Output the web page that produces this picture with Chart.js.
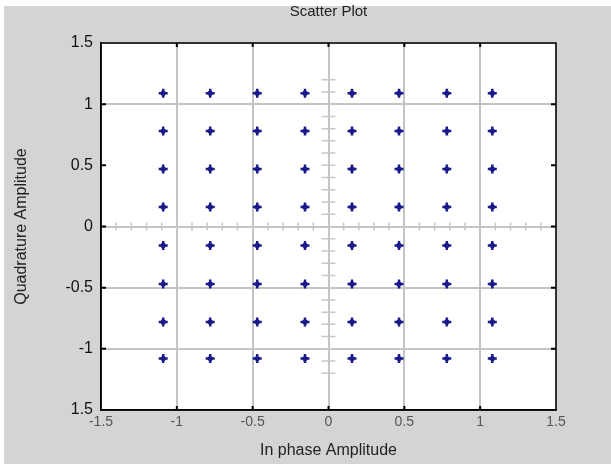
<!DOCTYPE html>
<html>
<head>
<meta charset="utf-8">
<title>Scatter Plot</title>
<script src="https://cdn.jsdelivr.net/npm/chart.js"></script>
<style>
html, body { margin: 0; padding: 0; background: #fff; }
#wrap { width: 611px; height: 464px; }
</style>
</head>
<body>
<div id="wrap"><canvas id="scatter" width="611" height="464"></canvas></div>
<script>
// 64-QAM constellation levels
var inPhase = [-1.09, -0.78, -0.47, -0.155, 0.155, 0.465, 0.78, 1.08];
var quadrature = [1.09, 0.78, 0.47, 0.16, -0.155, -0.47, -0.78, -1.08];
var xTickLabels = ['-1.5', '-1', '-0.5', '0', '0.5', '1', '1.5'];
var yTickLabels = ['1.5', '-1', '-0.5', '0', '0.5', '1', '1.5']; // bottom to top, as printed

var points = [];
for (var r = 0; r < quadrature.length; r++) {
  for (var c = 0; c < inPhase.length; c++) {
    points.push({ x: inPhase[c], y: quadrature[r] });
  }
}

var bgPlugin = {
  id: 'bg',
  beforeDraw: function (chart) {
    var ctx = chart.ctx, a = chart.chartArea;
    ctx.save();
    ctx.fillStyle = '#ffffff';
    ctx.fillRect(0, 0, chart.width, chart.height);
    ctx.fillStyle = '#d4d4d4';
    ctx.fillRect(4, 6, chart.width - 4, chart.height - 6);
    ctx.fillStyle = '#ffffff';
    ctx.fillRect(a.left, a.top, a.right - a.left, a.bottom - a.top);
    ctx.restore();
  }
};

// the centre axis cross with its little ticks, and the box round the plot
var boxPlugin = {
  id: 'box',
  beforeDatasetsDraw: function (chart) {
    var ctx = chart.ctx, a = chart.chartArea;
    var xs = chart.scales.x, ys = chart.scales.y;
    var x0 = xs.getPixelForValue(0), y0 = ys.getPixelForValue(0);
    ctx.save();
    ctx.strokeStyle = '#c8c8c8';
    ctx.lineWidth = 1.5;
    ctx.beginPath();
    for (var i = -14; i <= 14; i++) {
      if (i === 0) continue;
      var px = xs.getPixelForValue(i / 10);
      ctx.moveTo(px, y0 - 4);
      ctx.lineTo(px, y0 + 4);
    }
    for (var j = -12; j <= 12; j++) {
      if (j === 0) continue;
      var py = ys.getPixelForValue(j / 10);
      ctx.moveTo(x0 - 7, py);
      ctx.lineTo(x0 + 7, py);
    }
    ctx.stroke();

    ctx.strokeStyle = '#000';
    ctx.lineWidth = 1.5;
    ctx.strokeRect(a.left, a.top, a.right - a.left, a.bottom - a.top);
    ctx.lineWidth = 2;
    ctx.beginPath();
    for (var k = -1; k <= 1; k += 0.5) {
      var tx = xs.getPixelForValue(k), ty = ys.getPixelForValue(k);
      ctx.moveTo(tx, a.top); ctx.lineTo(tx, a.top + 4);
      ctx.moveTo(tx, a.bottom); ctx.lineTo(tx, a.bottom - 4);
      ctx.moveTo(a.left, ty); ctx.lineTo(a.left + 5, ty);
      ctx.moveTo(a.right, ty); ctx.lineTo(a.right - 5, ty);
    }
    ctx.stroke();
    ctx.restore();
  }
};

var chart = new Chart(document.getElementById('scatter'), {
  type: 'scatter',
  data: {
    datasets: [
      {
        label: 'dots',
        data: points,
        pointStyle: 'circle',
        pointRadius: 2.6,
        backgroundColor: '#1a1a88',
        borderColor: '#1a1a88',
        borderWidth: 0
      },
      {
        label: 'Scatter',
        data: points,
        pointStyle: 'cross',
        pointRadius: 4.5,
        borderWidth: 2.5,
        borderColor: '#1a1a88',
        backgroundColor: '#1a1a88'
      }
    ]
  },
  options: {
    responsive: false,
    animation: false,
    layout: { padding: { left: 0, right: 55, top: 0, bottom: 0 } },
    plugins: {
      legend: { display: false },
      tooltip: { enabled: false },
      title: {
        display: true,
        text: 'Scatter Plot',
        fullSize: false,
        color: '#222',
        font: { family: 'Liberation Sans', size: 15, weight: 'normal' },
        padding: { top: 3, bottom: 22 }
      }
    },
    scales: {
      x: {
        type: 'linear',
        min: -1.5,
        max: 1.5,
        afterFit: function (s) { s.height = 54; },
        ticks: {
          stepSize: 0.5,
          padding: 4,
          color: '#555',
          font: { family: 'Liberation Sans', size: 14 },
          callback: function (v, i) { return xTickLabels[i]; }
        },
        grid: {
          drawTicks: false,
          color: '#c4c4c4',
          lineWidth: 2
        },
        border: { display: true, color: '#000', width: 1.5 },
        title: {
          display: true,
          text: 'In phase Amplitude',
          color: '#222',
          font: { family: 'Liberation Sans', size: 16 },
          padding: { top: 0, bottom: 4 }
        }
      },
      y: {
        type: 'linear',
        min: -1.5,
        max: 1.5,
        afterFit: function (s) { s.width = 101; },
        ticks: {
          stepSize: 0.5,
          padding: 8,
          color: '#111',
          font: { family: 'Liberation Sans', size: 16 },
          callback: function (v, i) { return yTickLabels[i]; }
        },
        grid: {
          drawTicks: false,
          color: function (c) { return c.tick && c.tick.value === 0.5 ? 'rgba(0,0,0,0)' : '#c4c4c4'; },
          lineWidth: 2
        },
        border: { display: true, color: '#000', width: 1.5 },
        title: {
          display: true,
          text: 'Quadrature Amplitude',
          color: '#222',
          font: { family: 'Liberation Sans', size: 16 },
          padding: { top: 12, bottom: 0 }
        }
      }
    }
  },
  plugins: [bgPlugin, boxPlugin]
});
</script>
</body>
</html>
